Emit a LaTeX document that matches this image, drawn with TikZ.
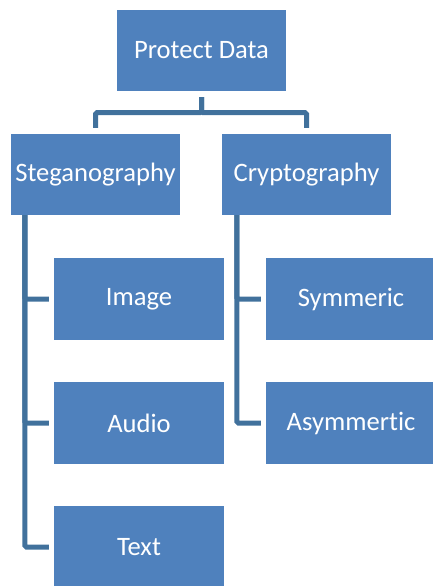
\documentclass[tikz,border=0pt]{standalone}
\usepackage{fontspec}
\setmainfont{Carlito}[Ligatures=CommonOff]
\definecolor{boxblue}{HTML}{4F81BD}
\definecolor{linkblue}{HTML}{41719C}
\begin{document}
\begin{tikzpicture}[x=1pt,y=-1pt,
  box/.style={rectangle, fill=boxblue, text=white, inner sep=0pt,
    minimum width=169pt, minimum height=81pt,
    font=\fontsize{26.6}{30}\selectfont},
  leaf/.style={box, minimum width=170pt, minimum height=82pt},
  conn/.style={draw=linkblue, line width=5pt, rounded corners=1.5pt}]
\useasboundingbox (0,0) rectangle (433,586);
\node[box] (pd) at (201.5,50.5) {Protect Data};
\node[box] (st) at (95.5,174.5) {Steganography};
\node[box] (cr) at (306.5,174.5) {Cryptography};
\node[leaf] (im) at (139,299) {Image};
\node[leaf] (au) at (139,423) {Audio};
\node[leaf] (tx) at (139,547) {Text};
\node[leaf] (sy) at (351,299) {Symmeric};
\node[leaf] (as) at (351,423) {Asymmertic};
\draw[conn] ([yshift=-6pt]pd.south) -- ++(0,15.5) -| ([yshift=6pt]st.north);
\draw[conn] ([yshift=-6pt]pd.south) -- ++(0,15.5) -| ([yshift=6pt]cr.north);
\draw[conn] ([xshift=14pt]st.south west) |- ([xshift=-5pt]tx.west);
\draw[conn] ([xshift=14pt]st.south west) |- ([xshift=-5pt]im.west);
\draw[conn] ([xshift=14pt]st.south west) |- ([xshift=-5pt]au.west);
\draw[conn] ([xshift=15pt]cr.south west) |- ([xshift=-5pt]as.west);
\draw[conn] ([xshift=15pt]cr.south west) |- ([xshift=-5pt]sy.west);
\end{tikzpicture}
\end{document}
